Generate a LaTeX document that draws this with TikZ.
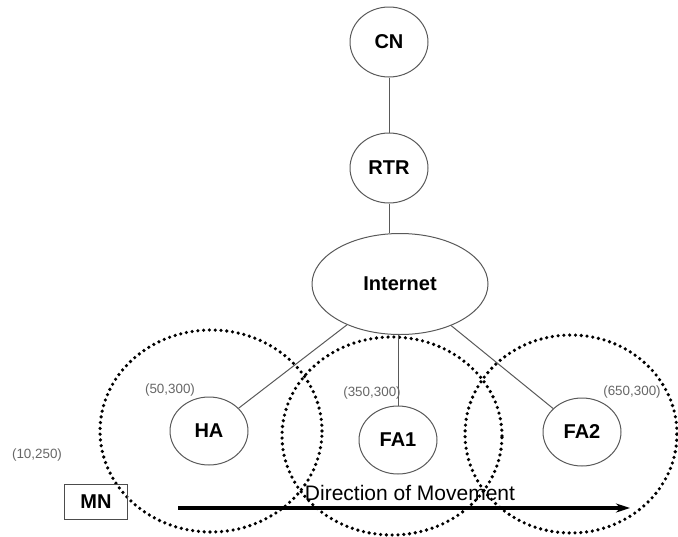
\documentclass[tikz,border=0pt]{standalone}
\usepackage{fontspec}
\setmainfont{Liberation Sans}
\usetikzlibrary{shapes.geometric,arrows.meta}
\tikzset{
	agent/.style={draw=black!65, line width=1pt, ellipse, inner sep=0pt,
		minimum width=78pt, minimum height=68pt, font=\fontsize{20}{24}\selectfont\bfseries},
	cell/.style={draw, ellipse, inner sep=0pt, line width=3.6pt, line cap=round,
		dash pattern=on 0pt off 5.8pt},
	link/.style={draw=black!65, line width=1pt},
	coordlabel/.style={text=black!60, font=\fontsize{13.4}{16}\selectfont},
}
\begin{document}
\begin{tikzpicture}[>={Stealth[length=14pt,width=9pt]}, x=1pt, y=-1pt]
				\useasboundingbox (0,0) rectangle (678,536);
				% coverage areas
				\node[cell, minimum width=222pt, minimum height=202pt] (hacell) at (211,431) {};
				\node[cell, minimum width=220pt, minimum height=198pt] (fa1cell) at (392,436) {};
				\node[cell, minimum width=212pt, minimum height=198pt] (fa2cell) at (571,434) {};
				% nodes
				\node[agent, minimum width=78pt, minimum height=70pt] (cn) at (389,42) {CN};
				\node[agent, minimum width=78pt, minimum height=70pt] (rtr) at (389,168) {RTR};
				\node[agent, minimum width=176pt, minimum height=101pt] (internet) at (400,284) {Internet};
				\node[agent] (ha) at (209,431) {HA};
				\node[agent] (fa1) at (398,440) {FA1};
				\node[agent] (fa2) at (582,432) {FA2};
				\node[draw=black!70, line width=1pt, minimum width=63pt, minimum height=35pt, inner sep=0pt,
					font=\fontsize{20}{24}\selectfont\bfseries] (mn) at (96,502) {MN};
				% links
				\draw[link] (cn.south) -- (rtr.north);
				\draw[link] (rtr.south) -- (internet.north -| rtr.south);
				\draw[link] (internet) -- (ha);
				\draw[link] (internet.south -| fa1.north) -- (fa1.north);
				\draw[link] (internet) -- (fa2);
				% positions
				\node[coordlabel] (hapos) at (170,390) {(50,300)};
				\node[coordlabel] (fa1pos) at (372,393) {(350,300)};
				\node[coordlabel] (fa2pos) at (632,392) {(650,300)};
				\node[coordlabel] (mnpos) at (37,455) {(10,250)};
				% movement
				\coordinate (start) at (178,508);
				\coordinate (stop) at (630,508);
				\draw[->, line width=3.2pt] (start) -- (stop);
				\node[font=\fontsize{21}{25}\selectfont] (dir) at (410,493) {Direction of Movement};
			\end{tikzpicture}
\end{document}
